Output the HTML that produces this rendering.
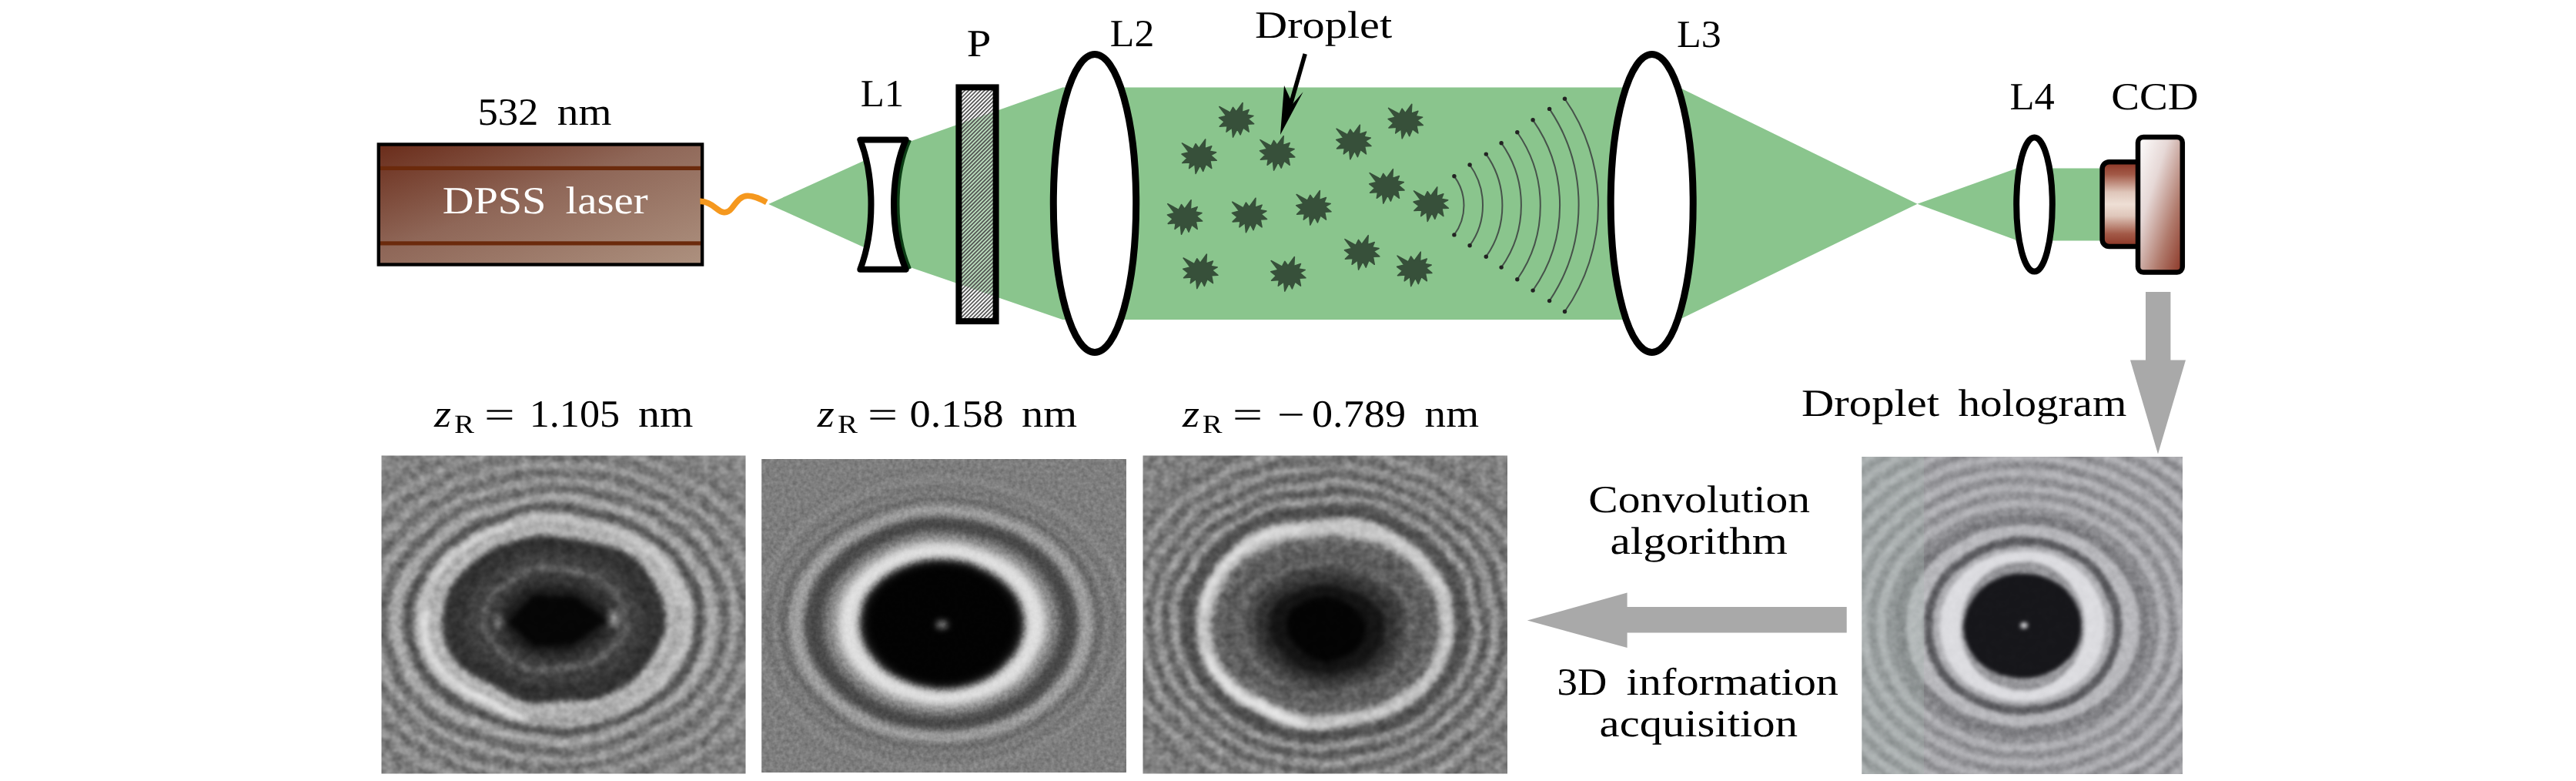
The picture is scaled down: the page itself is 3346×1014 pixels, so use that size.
<!DOCTYPE html><html><head><meta charset="utf-8"><title>Droplet holography setup</title>
<style>html,body{margin:0;padding:0;background:#fff;}svg{display:block}text{font-family:"Liberation Serif",serif;text-rendering:geometricPrecision;-webkit-font-smoothing:antialiased;}</style></head><body>
<svg width="3346" height="1014" viewBox="0 0 3346 1014">
<defs>
<linearGradient id="gLaser" x1="0" y1="0" x2="1" y2="1"><stop offset="0" stop-color="#6a2c1a"/><stop offset="0.45" stop-color="#8f6758"/><stop offset="1" stop-color="#ad917f"/></linearGradient>
<linearGradient id="gCcd1" x1="0" y1="0" x2="0" y2="1"><stop offset="0" stop-color="#8a3424"/><stop offset="0.15" stop-color="#a35a48"/><stop offset="0.36" stop-color="#dfc6ba"/><stop offset="0.5" stop-color="#eedfd5"/><stop offset="0.64" stop-color="#dfc6ba"/><stop offset="0.85" stop-color="#a35a48"/><stop offset="1" stop-color="#8a3424"/></linearGradient>
<linearGradient id="gCcd2" x1="0" y1="0" x2="1" y2="1"><stop offset="0" stop-color="#ffffff"/><stop offset="0.35" stop-color="#e6d8d6"/><stop offset="0.7" stop-color="#b07a6c"/><stop offset="1" stop-color="#8a3424"/></linearGradient>
<pattern id="hatch" width="3.6" height="3.6" patternUnits="userSpaceOnUse" patternTransform="rotate(-45)"><rect width="3.6" height="3.6" fill="#fff" fill-opacity="0.4"/><rect width="3.6" height="1.7" fill="#505050"/></pattern>
<polygon id="drop" points="-21.9,-17.3 -7.7,-9.6 -4.2,-16.5 0.0,-10.8 8.4,-22.3 7.7,-10.4 16.5,-13.4 13.8,-6.9 22.3,-5.4 15.4,-1.5 23.0,5.0 14.6,5.4 16.5,15.4 9.2,10.0 5.4,19.2 1.5,11.5 -4.2,22.3 -5.4,10.0 -12.7,15.4 -11.5,7.7 -21.5,8.4 -15.4,2.3 -22.3,-3.1 -13.0,-5.4"/>
</defs>
<rect width="3346" height="1014" fill="#fff"/>
<g fill="#8ac58d">
<polygon points="998.2,264.9 1132,204.2 1132,325.6"/>
<polygon points="1150,195 1380.3,113.5 1380.3,415 1150,336"/>
<rect x="1380" y="113.5" width="802" height="301.5"/>
<polygon points="2181,113.5 2490.5,264.8 2181,415"/>
<polygon points="2490.5,264.8 2618.2,219 2618.2,311.5"/>
<rect x="2618" y="218.5" width="114" height="94"/>
</g>
<rect x="491.8" y="187.5" width="420.3" height="156" fill="url(#gLaser)" stroke="#000" stroke-width="4.4"/>
<rect x="494" y="215.8" width="416" height="5.2" fill="#6b2a0c"/>
<rect x="494" y="313.3" width="416" height="5.2" fill="#6b2a0c"/>
<path d="M909.3,261.4 C918,261 925,266 931,271 C937,276 944,278.5 950,271 C957,262 962,254.2 971.2,254.2 C980,254.2 988,258.5 995.8,262.7" fill="none" stroke="#f5981e" stroke-width="7.6" />
<path d="M1180.6,181.4 C1159.8,230 1159.8,300 1180.6,349.7" fill="none" stroke="#0b3d14" stroke-width="7"/>
<path d="M1117.3,181.4 L1176.6,181.4 C1155.8,230 1155.8,300 1176.6,349.7 L1117.3,349.7 C1136.2,300 1136.2,230 1117.3,181.4 Z" fill="#fff" stroke="#000" stroke-width="8" stroke-linejoin="round"/>
<rect x="1245.4" y="113.4" width="48.2" height="303.7" fill="url(#hatch)" stroke="#000" stroke-width="8"/>
<ellipse cx="1422" cy="264" rx="53.7" ry="193.5" fill="#fff" stroke="#000" stroke-width="9"/>
<ellipse cx="2145.7" cy="264" rx="53.5" ry="193.5" fill="#fff" stroke="#000" stroke-width="9"/>
<ellipse cx="2642.5" cy="265.6" rx="23.3" ry="87" fill="#fff" stroke="#000" stroke-width="8"/>
<g fill="#37503a" stroke="#37503a" stroke-width="1.5" stroke-linejoin="round">
<use href="#drop" x="1605.7" y="155.8"/>
<use href="#drop" x="1825.4" y="157.6"/>
<use href="#drop" x="1557.3" y="203.2"/>
<use href="#drop" x="1658.8" y="198.9"/>
<use href="#drop" x="1758.0" y="184.5"/>
<use href="#drop" x="1801.0" y="241.9"/>
<use href="#drop" x="1858.4" y="265.2"/>
<use href="#drop" x="1538.7" y="282.0"/>
<use href="#drop" x="1622.6" y="279.5"/>
<use href="#drop" x="1706.0" y="269.8"/>
<use href="#drop" x="1768.8" y="327.9"/>
<use href="#drop" x="1836.9" y="349.4"/>
<use href="#drop" x="1559.0" y="352.3"/>
<use href="#drop" x="1673.0" y="355.8"/>
</g>
<g fill="none" stroke="#46524a" stroke-width="2">
<path d="M1888.9,228.8 A63.8,63.8 0 0 1 1888.9,304.9"/>
<path d="M1909.1,214.0 A89.7,89.7 0 0 1 1909.1,318.8"/>
<path d="M1930.3,200.1 A115.5,115.5 0 0 1 1930.3,333.2"/>
<path d="M1950.1,185.7 A139.1,139.1 0 0 1 1950.1,347.1"/>
<path d="M1970.8,171.8 A166.8,166.8 0 0 1 1970.8,362.7"/>
<path d="M1991.1,155.8 A192.4,192.4 0 0 1 1991.1,377.1"/>
<path d="M2012.6,141.4 A223.3,223.3 0 0 1 2012.6,390.6"/>
<path d="M2032.5,128.3 A241.0,241.0 0 0 1 2032.5,404.5"/>
</g><g fill="#222">
<circle cx="1888.9" cy="228.8" r="2.7"/><circle cx="1888.9" cy="304.9" r="2.7"/>
<circle cx="1909.1" cy="214.0" r="2.7"/><circle cx="1909.1" cy="318.8" r="2.7"/>
<circle cx="1930.3" cy="200.1" r="2.7"/><circle cx="1930.3" cy="333.2" r="2.7"/>
<circle cx="1950.1" cy="185.7" r="2.7"/><circle cx="1950.1" cy="347.1" r="2.7"/>
<circle cx="1970.8" cy="171.8" r="2.7"/><circle cx="1970.8" cy="362.7" r="2.7"/>
<circle cx="1991.1" cy="155.8" r="2.7"/><circle cx="1991.1" cy="377.1" r="2.7"/>
<circle cx="2012.6" cy="141.4" r="2.7"/><circle cx="2012.6" cy="390.6" r="2.7"/>
<circle cx="2032.5" cy="128.3" r="2.7"/><circle cx="2032.5" cy="404.5" r="2.7"/>
</g>
<path d="M1695.2,70 L1676,137" stroke="#000" stroke-width="5.5" fill="none"/>
<polygon points="1663,175 1668,111 1679,135 1692.7,119.2" fill="#000"/>
<rect x="2730.6" y="210.2" width="60" height="109.8" rx="9" fill="url(#gCcd1)" stroke="#000" stroke-width="6.5"/>
<rect x="2777" y="178" width="57.8" height="175.4" rx="7" fill="url(#gCcd2)" stroke="#000" stroke-width="6.5"/>
<polygon points="2787,379 2819.4,379 2819.4,467.5 2839,467.5 2803,589.4 2767,467.5 2787,467.5" fill="#a9a9a9"/>
<polygon points="1983.8,805.6 2113.6,769.5 2113.6,788 2398.7,788 2398.7,821.5 2113.6,821.5 2113.6,841" fill="#a9a9a9"/>
<text x="620.5" y="161.6" font-size="50" fill="#000" textLength="78.9" lengthAdjust="spacingAndGlyphs" >532</text>
<text x="723.8" y="161.6" font-size="50" fill="#000" textLength="70.6" lengthAdjust="spacingAndGlyphs" >nm</text>
<text x="574.7" y="277.4" font-size="50" fill="#fff" textLength="134.7" lengthAdjust="spacingAndGlyphs" >DPSS</text>
<text x="734.5" y="277.4" font-size="50" fill="#fff" textLength="107.2" lengthAdjust="spacingAndGlyphs" >laser</text>
<text x="1117.8" y="138.2" font-size="50" fill="#000" textLength="56.5" lengthAdjust="spacingAndGlyphs" >L1</text>
<text x="1255.7" y="72.6" font-size="50" fill="#000" textLength="31.5" lengthAdjust="spacingAndGlyphs" >P</text>
<text x="1441.8" y="59.8" font-size="50" fill="#000" textLength="57.5" lengthAdjust="spacingAndGlyphs" >L2</text>
<text x="1630.0" y="49.2" font-size="50" fill="#000" textLength="178.2" lengthAdjust="spacingAndGlyphs" >Droplet</text>
<text x="2178.0" y="60.8" font-size="50" fill="#000" textLength="57.7" lengthAdjust="spacingAndGlyphs" >L3</text>
<text x="2610.4" y="142.0" font-size="50" fill="#000" textLength="58.3" lengthAdjust="spacingAndGlyphs" >L4</text>
<text x="2742.2" y="142.0" font-size="50" fill="#000" textLength="113.3" lengthAdjust="spacingAndGlyphs" >CCD</text>
<text x="2340.0" y="539.9" font-size="50" fill="#000" textLength="179.0" lengthAdjust="spacingAndGlyphs" >Droplet</text>
<text x="2543.4" y="539.9" font-size="50" fill="#000" textLength="219.0" lengthAdjust="spacingAndGlyphs" >hologram</text>
<text x="2063.3" y="664.6" font-size="50" fill="#000" textLength="287.7" lengthAdjust="spacingAndGlyphs" >Convolution</text>
<text x="2091.4" y="719.2" font-size="50" fill="#000" textLength="230.5" lengthAdjust="spacingAndGlyphs" >algorithm</text>
<text x="2022.5" y="902.0" font-size="50" fill="#000" textLength="64.7" lengthAdjust="spacingAndGlyphs" >3D</text>
<text x="2112.6" y="902.0" font-size="50" fill="#000" textLength="275.4" lengthAdjust="spacingAndGlyphs" >information</text>
<text x="2077.6" y="956.0" font-size="50" fill="#000" textLength="257.4" lengthAdjust="spacingAndGlyphs" >acquisition</text>
<text x="564.0" y="553.7" font-size="50" font-style="italic" textLength="22" lengthAdjust="spacingAndGlyphs">z</text>
<text x="590.0" y="562.2" font-size="34" opacity="0.99" textLength="26.0" lengthAdjust="spacingAndGlyphs">R</text>
<text x="628.9" y="554.7" font-size="50" textLength="39.7" lengthAdjust="spacingAndGlyphs">=</text>
<text x="687.8" y="553.7" font-size="50" textLength="117.2" lengthAdjust="spacingAndGlyphs">1.105</text>
<text x="829.0" y="553.7" font-size="50" textLength="71.3" lengthAdjust="spacingAndGlyphs">nm</text>
<text x="1061.7" y="553.7" font-size="50" font-style="italic" textLength="22" lengthAdjust="spacingAndGlyphs">z</text>
<text x="1088.0" y="562.2" font-size="34" opacity="0.99" textLength="26.0" lengthAdjust="spacingAndGlyphs">R</text>
<text x="1126.9" y="554.7" font-size="50" textLength="39.1" lengthAdjust="spacingAndGlyphs">=</text>
<text x="1181.5" y="553.7" font-size="50" textLength="122.3" lengthAdjust="spacingAndGlyphs">0.158</text>
<text x="1327.0" y="553.7" font-size="50" textLength="72.0" lengthAdjust="spacingAndGlyphs">nm</text>
<text x="1536.0" y="553.7" font-size="50" font-style="italic" textLength="22" lengthAdjust="spacingAndGlyphs">z</text>
<text x="1561.7" y="562.2" font-size="34" opacity="0.99" textLength="25.8" lengthAdjust="spacingAndGlyphs">R</text>
<text x="1600.9" y="554.7" font-size="50" textLength="39.1" lengthAdjust="spacingAndGlyphs">=</text>
<text x="1659.1" y="554.7" font-size="50" textLength="35.8" lengthAdjust="spacingAndGlyphs">−</text>
<text x="1704.0" y="553.7" font-size="50" textLength="122.0" lengthAdjust="spacingAndGlyphs">0.789</text>
<text x="1850.6" y="553.7" font-size="50" textLength="70.4" lengthAdjust="spacingAndGlyphs">nm</text>
<clipPath id="clip1"><rect x="495.5" y="591.6" width="473.0" height="412.9"/></clipPath>
<filter id="blur1" x="-10%" y="-10%" width="120%" height="120%" color-interpolation-filters="sRGB"><feTurbulence type="fractalNoise" baseFrequency="0.012" numOctaves="2" seed="3" result="t"/><feDisplacementMap in="SourceGraphic" in2="t" scale="14" xChannelSelector="R" yChannelSelector="G" result="d"/><feGaussianBlur in="d" stdDeviation="3.5"/></filter>
<filter id="noise1" x="0" y="0" width="100%" height="100%" color-interpolation-filters="sRGB"><feTurbulence type="fractalNoise" baseFrequency="0.09 0.1" numOctaves="2" seed="10"/><feColorMatrix type="matrix" values="0.3 0 0 0 0.35  0.3 0 0 0 0.35  0.3 0 0 0 0.35  0 0 0 0 1"/></filter>
<g clip-path="url(#clip1)">
<rect x="495.5" y="591.6" width="473.0" height="412.9" fill="#929292"/>
<g filter="url(#blur1)">
<rect x="455.5" y="551.6" width="553.0" height="492.9" fill="#929292"/>
<ellipse cx="719.5" cy="805.0" rx="345.0" ry="300.0" fill="#848484"/>
<ellipse cx="719.5" cy="805.0" rx="313.0" ry="242.0" fill="#767676"/>
<ellipse cx="719.5" cy="805.0" rx="299.0" ry="230.0" fill="#989898"/>
<ellipse cx="719.5" cy="805.0" rx="285.0" ry="220.0" fill="#707070"/>
<ellipse cx="719.5" cy="805.0" rx="271.0" ry="208.0" fill="#9b9b9b"/>
<ellipse cx="719.5" cy="805.0" rx="257.0" ry="198.0" fill="#6c6c6c"/>
<ellipse cx="719.5" cy="805.0" rx="243.0" ry="186.0" fill="#a0a0a0"/>
<ellipse cx="719.5" cy="805.0" rx="229.0" ry="176.0" fill="#646464"/>
<ellipse cx="719.5" cy="805.0" rx="215.0" ry="164.0" fill="#aaaaaa"/>
<ellipse cx="719.5" cy="805.0" rx="197.0" ry="151.0" fill="#525252"/>
<ellipse cx="719.5" cy="805.0" rx="183.0" ry="139.0" fill="#bebebe"/>
<ellipse cx="719.5" cy="805.0" rx="166.0" ry="124.0" fill="#9e9e9e"/>
<ellipse cx="719.5" cy="805.0" rx="160.0" ry="119.0" fill="#b8b8b8"/>
<ellipse cx="719.5" cy="805.0" rx="146.0" ry="108.0" fill="#323232"/>
<ellipse cx="719.5" cy="805.0" rx="118.0" ry="86.0" fill="#3e3e3e"/>
<ellipse cx="719.5" cy="805.0" rx="80.0" ry="56.0" fill="#323232"/>
<ellipse cx="719.5" cy="805.0" rx="66.0" ry="46.0" fill="#1e1e1e"/>
<polygon points="660,805 695,770 745,770 784,805 745,838 695,840" fill="#050505"/><ellipse cx="648" cy="805" rx="7" ry="12" fill="#777"/><ellipse cx="794" cy="803" rx="8" ry="12" fill="#8a8a8a"/><ellipse cx="719" cy="805" rx="92" ry="66" fill="none" stroke="#666" stroke-width="7"/><path d="M676.0,928.6 A168.0,128.0 0 0 1 552.1,793.8" fill="none" stroke="#e4e4e4" stroke-width="9" stroke-linecap="round"/><path d="M565.4,750.1 A170.0,130.0 0 0 1 661.4,682.8" fill="none" stroke="#d8d8d8" stroke-width="7" stroke-linecap="round"/><path d="M802.5,695.9 A166.0,126.0 0 0 1 883.0,783.1" fill="none" stroke="#d4d4d4" stroke-width="6" stroke-linecap="round"/><path d="M805.5,918.4 A172.0,131.0 0 0 1 689.6,934.0" fill="none" stroke="#8a8a8a" stroke-width="4" stroke-linecap="round"/>
</g>
<rect x="495.5" y="591.6" width="473.0" height="412.9" filter="url(#noise1)" style="mix-blend-mode:overlay"/>
</g>
<clipPath id="clip2"><rect x="989.2" y="596.0" width="473.8" height="407.0"/></clipPath>
<filter id="blur2" x="-10%" y="-10%" width="120%" height="120%" color-interpolation-filters="sRGB"><feTurbulence type="fractalNoise" baseFrequency="0.012" numOctaves="2" seed="5" result="t"/><feDisplacementMap in="SourceGraphic" in2="t" scale="5" xChannelSelector="R" yChannelSelector="G" result="d"/><feGaussianBlur in="d" stdDeviation="4.2"/></filter>
<filter id="noise2" x="0" y="0" width="100%" height="100%" color-interpolation-filters="sRGB"><feTurbulence type="fractalNoise" baseFrequency="0.2 0.2" numOctaves="2" seed="12"/><feColorMatrix type="matrix" values="0.2 0 0 0 0.4  0.2 0 0 0 0.4  0.2 0 0 0 0.4  0 0 0 0 1"/></filter>
<g clip-path="url(#clip2)">
<rect x="989.2" y="596.0" width="473.8" height="407.0" fill="#7e7e7e"/>
<g filter="url(#blur2)">
<rect x="949.2" y="556.0" width="553.8" height="487.0" fill="#7e7e7e"/>
<ellipse cx="1223.0" cy="810.0" rx="262.0" ry="205.0" fill="#7a7a7a"/>
<ellipse cx="1223.0" cy="810.0" rx="247.0" ry="193.0" fill="#868686"/>
<ellipse cx="1223.0" cy="810.0" rx="232.0" ry="181.0" fill="#707070"/>
<ellipse cx="1223.0" cy="810.0" rx="219.0" ry="171.0" fill="#929292"/>
<ellipse cx="1223.0" cy="810.0" rx="212.0" ry="166.0" fill="#646464"/>
<ellipse cx="1223.0" cy="810.0" rx="198.0" ry="155.0" fill="#a0a0a0"/>
<ellipse cx="1223.0" cy="810.0" rx="178.0" ry="139.0" fill="#484848"/>
<ellipse cx="1223.0" cy="810.0" rx="154.0" ry="120.0" fill="#808080"/>
<ellipse cx="1223.0" cy="810.0" rx="141.0" ry="110.0" fill="#acacac"/>
<ellipse cx="1223.0" cy="810.0" rx="133.0" ry="104.0" fill="#e0e0e0"/>
<ellipse cx="1223.0" cy="810.0" rx="113.0" ry="88.0" fill="#bebebe"/>
<ellipse cx="1223.0" cy="810.0" rx="107.0" ry="84.0" fill="#141414"/>
<ellipse cx="1223.0" cy="810.0" rx="97.0" ry="76.0" fill="#020202"/>
<ellipse cx="1223" cy="811" rx="7" ry="4.5" fill="#999"/>
</g>
<rect x="989.2" y="596.0" width="473.8" height="407.0" filter="url(#noise2)" style="mix-blend-mode:overlay"/>
</g>
<clipPath id="clip3"><rect x="1484.5" y="591.6" width="473.5" height="412.9"/></clipPath>
<filter id="blur3" x="-10%" y="-10%" width="120%" height="120%" color-interpolation-filters="sRGB"><feTurbulence type="fractalNoise" baseFrequency="0.012" numOctaves="2" seed="9" result="t"/><feDisplacementMap in="SourceGraphic" in2="t" scale="14" xChannelSelector="R" yChannelSelector="G" result="d"/><feGaussianBlur in="d" stdDeviation="3.5"/></filter>
<filter id="noise3" x="0" y="0" width="100%" height="100%" color-interpolation-filters="sRGB"><feTurbulence type="fractalNoise" baseFrequency="0.09 0.1" numOctaves="2" seed="16"/><feColorMatrix type="matrix" values="0.3 0 0 0 0.35  0.3 0 0 0 0.35  0.3 0 0 0 0.35  0 0 0 0 1"/></filter>
<g clip-path="url(#clip3)">
<rect x="1484.5" y="591.6" width="473.5" height="412.9" fill="#8c8c8c"/>
<g filter="url(#blur3)">
<rect x="1444.5" y="551.6" width="553.5" height="492.9" fill="#8c8c8c"/>
<ellipse cx="1723.0" cy="809.0" rx="345.0" ry="310.0" fill="#808080"/>
<ellipse cx="1723.0" cy="809.0" rx="283.0" ry="242.0" fill="#6e6e6e"/>
<ellipse cx="1723.0" cy="809.0" rx="271.0" ry="230.0" fill="#989898"/>
<ellipse cx="1723.0" cy="809.0" rx="259.0" ry="220.0" fill="#696969"/>
<ellipse cx="1723.0" cy="809.0" rx="247.0" ry="208.0" fill="#9b9b9b"/>
<ellipse cx="1723.0" cy="809.0" rx="236.0" ry="199.0" fill="#626262"/>
<ellipse cx="1723.0" cy="809.0" rx="224.0" ry="187.0" fill="#9e9e9e"/>
<ellipse cx="1723.0" cy="809.0" rx="213.0" ry="178.0" fill="#5c5c5c"/>
<ellipse cx="1723.0" cy="809.0" rx="201.0" ry="166.0" fill="#a0a0a0"/>
<ellipse cx="1723.0" cy="809.0" rx="190.0" ry="157.0" fill="#505050"/>
<ellipse cx="1723.0" cy="809.0" rx="170.0" ry="138.0" fill="#c6c6c6"/>
<ellipse cx="1723.0" cy="809.0" rx="154.0" ry="120.0" fill="#b4b4b4"/>
<ellipse cx="1723.0" cy="811.0" rx="150.0" ry="116.0" fill="#646464"/>
<ellipse cx="1723.0" cy="812.0" rx="132.0" ry="100.0" fill="#585858"/>
<ellipse cx="1723.0" cy="813.0" rx="118.0" ry="90.0" fill="#646464"/>
<ellipse cx="1723.0" cy="814.0" rx="104.0" ry="80.0" fill="#444444"/>
<ellipse cx="1723.0" cy="815.0" rx="90.0" ry="68.0" fill="#303030"/>
<ellipse cx="1723.0" cy="816.0" rx="74.0" ry="55.0" fill="#141414"/>
<ellipse cx="1723.0" cy="816.0" rx="50.0" ry="38.0" fill="#030303"/>
<polygon points="1672,816 1722,775 1775,816 1722,858" fill="#030303"/><path d="M1694.9,936.0 A162.0,129.0 0 0 1 1570.8,853.1" fill="none" stroke="#e6e6e6" stroke-width="9" stroke-linecap="round"/><path d="M1563.5,786.6 A162.0,129.0 0 0 1 1694.9,682.0" fill="none" stroke="#dedede" stroke-width="8" stroke-linecap="round"/><path d="M1804.0,697.3 A162.0,129.0 0 0 1 1875.2,764.9" fill="none" stroke="#d6d6d6" stroke-width="6" stroke-linecap="round"/>
</g>
<rect x="1484.5" y="591.6" width="473.5" height="412.9" filter="url(#noise3)" style="mix-blend-mode:overlay"/>
</g>
<clipPath id="clip4"><rect x="2418.3" y="593.0" width="416.7" height="412.0"/></clipPath>
<filter id="blur4" x="-10%" y="-10%" width="120%" height="120%" color-interpolation-filters="sRGB"><feTurbulence type="fractalNoise" baseFrequency="0.012" numOctaves="2" seed="13" result="t"/><feDisplacementMap in="SourceGraphic" in2="t" scale="4" xChannelSelector="R" yChannelSelector="G" result="d"/><feGaussianBlur in="d" stdDeviation="2.8"/></filter>
<filter id="noise4" x="0" y="0" width="100%" height="100%" color-interpolation-filters="sRGB"><feTurbulence type="fractalNoise" baseFrequency="0.1 0.1" numOctaves="2" seed="20"/><feColorMatrix type="matrix" values="0.22 0 0 0 0.39  0.22 0 0 0 0.39  0.22 0 0 0 0.39  0 0 0 0 1"/></filter>
<g clip-path="url(#clip4)">
<rect x="2418.3" y="593.0" width="416.7" height="412.0" fill="#a5a5a5"/>
<g filter="url(#blur4)">
<rect x="2378.3" y="553.0" width="496.7" height="492.0" fill="#a5a5a5"/>
<ellipse cx="2627.5" cy="812.5" rx="363.0" ry="313.5" fill="#8e8e8e"/>
<ellipse cx="2627.5" cy="812.5" rx="351.5" ry="303.5" fill="#b6b6b6"/>
<ellipse cx="2627.5" cy="812.5" rx="339.9" ry="293.6" fill="#8e8e8e"/>
<ellipse cx="2627.5" cy="812.5" rx="328.4" ry="283.6" fill="#b6b6b6"/>
<ellipse cx="2627.5" cy="812.5" rx="316.8" ry="273.6" fill="#8e8e8e"/>
<ellipse cx="2627.5" cy="812.5" rx="305.2" ry="263.6" fill="#b6b6b6"/>
<ellipse cx="2627.5" cy="812.5" rx="293.7" ry="253.6" fill="#8e8e8e"/>
<ellipse cx="2627.5" cy="812.5" rx="282.2" ry="243.7" fill="#b6b6b6"/>
<ellipse cx="2627.5" cy="812.5" rx="270.6" ry="233.7" fill="#8e8e8e"/>
<ellipse cx="2627.5" cy="812.5" rx="259.1" ry="223.7" fill="#b6b6b6"/>
<ellipse cx="2627.5" cy="812.5" rx="247.5" ry="213.8" fill="#8e8e8e"/>
<ellipse cx="2627.5" cy="812.5" rx="236.0" ry="203.8" fill="#b6b6b6"/>
<ellipse cx="2627.5" cy="812.5" rx="224.4" ry="193.8" fill="#8e8e8e"/>
<ellipse cx="2627.5" cy="812.5" rx="212.9" ry="183.8" fill="#b6b6b6"/>
<ellipse cx="2627.5" cy="812.5" rx="201.3" ry="173.8" fill="#8e8e8e"/>
<ellipse cx="2627.5" cy="812.5" rx="189.8" ry="163.9" fill="#b6b6b6"/>
<ellipse cx="2627.5" cy="812.5" rx="178.2" ry="153.9" fill="#8e8e8e"/>
<ellipse cx="2627.5" cy="812.5" rx="166.7" ry="143.9" fill="#b6b6b6"/>
<ellipse cx="2627.5" cy="812.5" rx="166.0" ry="144.0" fill="#7d7d7d"/>
<ellipse cx="2627.5" cy="812.5" rx="152.0" ry="131.0" fill="#bebebe"/>
<ellipse cx="2627.5" cy="812.5" rx="129.0" ry="116.0" fill="#555555"/>
<ellipse cx="2627.5" cy="812.5" rx="118.0" ry="105.0" fill="#b2b2b2"/>
<ellipse cx="2627.5" cy="812.5" rx="108.0" ry="98.0" fill="#e6e6e6"/>
<ellipse cx="2627.5" cy="812.5" rx="80.0" ry="84.0" fill="#969696"/>
<ellipse cx="2627.5" cy="812.5" rx="76.0" ry="68.0" fill="#0a0a0a"/>
<ellipse cx="2628" cy="813" rx="5" ry="4" fill="#ddd"/>
</g>
<rect x="2418.3" y="593.0" width="416.7" height="412.0" filter="url(#noise4)" style="mix-blend-mode:overlay"/>
<rect x="2418" y="593" width="81" height="413" fill="#a8c0b0" opacity="0.28"/><rect x="2418" y="593" width="417" height="413" fill="#8888b0" opacity="0.10"/>
</g>
</svg></body></html>
